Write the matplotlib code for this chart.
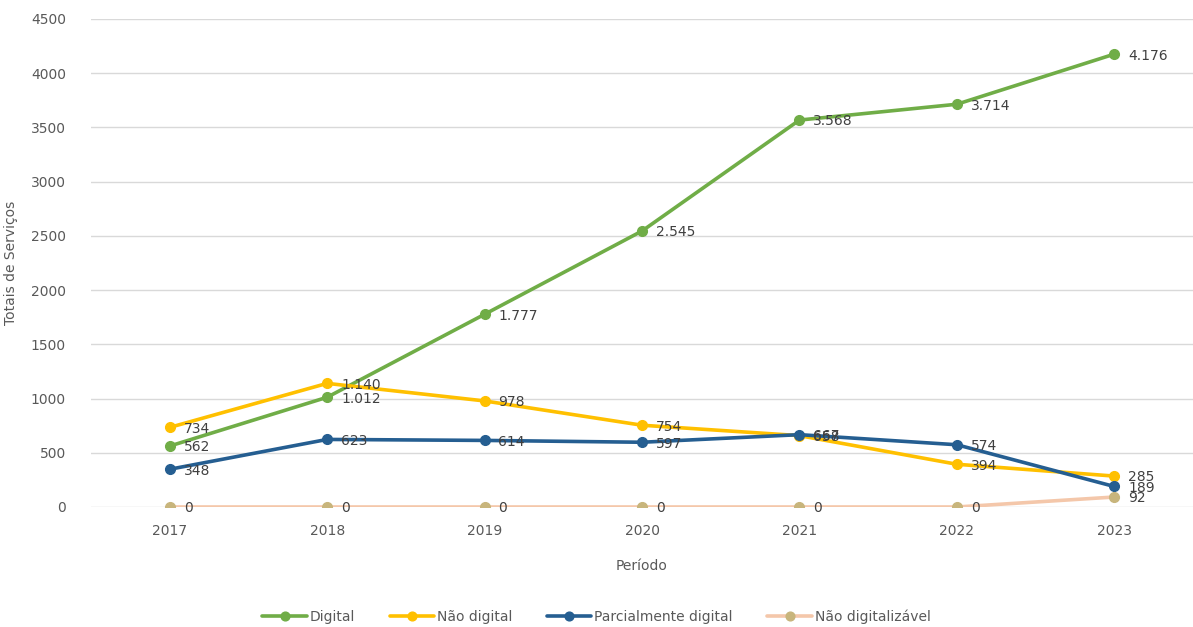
import matplotlib
matplotlib.use("Agg")
import matplotlib.pyplot as plt
from matplotlib.ticker import MultipleLocator

years = ["2017", "2018", "2019", "2020", "2021", "2022", "2023"]
digital = [562, 1012, 1777, 2545, 3568, 3714, 4176]
nao_digital = [734, 1140, 978, 754, 658, 394, 285]
parcial = [348, 623, 614, 597, 667, 574, 189]
nao_digitalizavel = [0, 0, 0, 0, 0, 0, 92]

series = [
    ("Digital", digital, "#70AD47", "#70AD47"),
    ("Não digital", nao_digital, "#FFC000", "#FFC000"),
    ("Parcialmente digital", parcial, "#255E91", "#255E91"),
    ("Não digitalizável", nao_digitalizavel, "#F4C7AA", "#C8B57C"),
]

def fmt(v):
    return f"{v:,}".replace(",", ".")

fig = plt.figure(figsize=(11.93, 6.27), dpi=100)
ax = fig.add_axes([0.0763, 0.1914, 0.9237, 0.7783])
x = list(range(len(years)))

for name, vals, lc, mc in series:
    ax.plot(x, vals, color=lc, lw=2.6, marker="o", ms=7, mfc=mc, mec=mc,
            label=name, solid_capstyle="round")
    for xi, v in zip(x, vals):
        ax.annotate(fmt(v), (xi, v), xytext=(10, -1), textcoords="offset points",
                    ha="left", va="center", fontsize=10, color="#404040")

ax.set_xlim(-0.5, len(years) - 0.5)
ax.set_ylim(0, 4500)
ax.yaxis.set_major_locator(MultipleLocator(500))
ax.set_xticks(x)
ax.set_xticklabels(years)
ax.grid(axis="y", color="#D9D9D9", lw=1)
ax.set_axisbelow(True)
for s in ax.spines.values():
    s.set_visible(False)
ax.tick_params(axis="both", length=0, labelsize=10, colors="#595959")
ax.tick_params(axis="y", pad=18)
ax.tick_params(axis="x", pad=12)
ax.set_ylabel("Totais de Serviços", fontsize=10, color="#595959")
ax.yaxis.set_label_coords(-0.066, 0.5)
ax.set_xlabel("Período", fontsize=10, color="#595959")
ax.xaxis.set_label_coords(0.5, -0.106)

fig.legend(loc="center", bbox_to_anchor=(0.5, 0.016), ncol=4, frameon=False,
           fontsize=10, labelcolor="#595959", handlelength=3.2, handletextpad=0.2,
           columnspacing=2.5, markerscale=0.9)

fig.savefig("out.png", dpi=100)
